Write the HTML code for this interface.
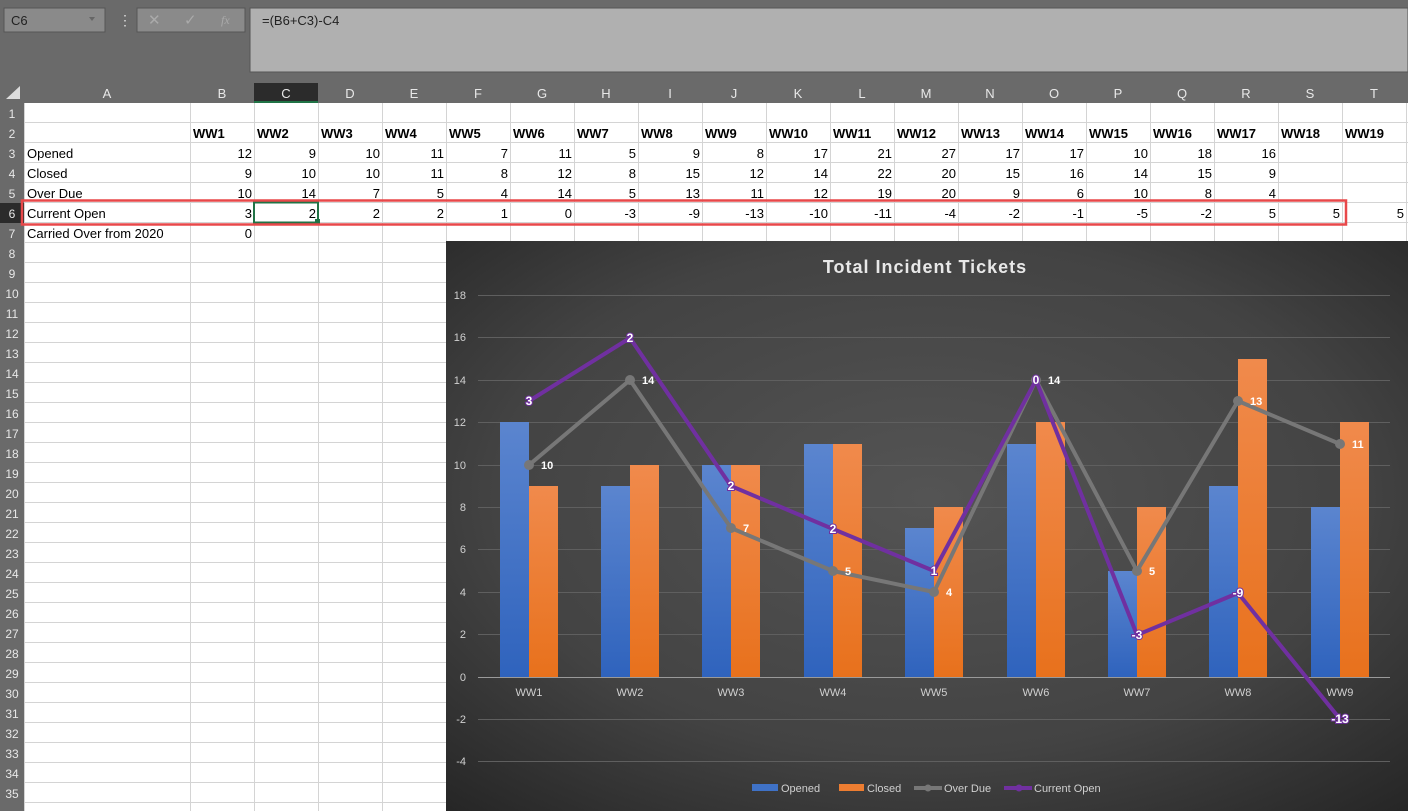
<!DOCTYPE html>
<html><head><meta charset="utf-8"><style>
html,body{margin:0;padding:0;background:#fff;}
svg{display:block;font-family:"Liberation Sans",sans-serif;}
</style></head><body>
<svg width="1408" height="811" viewBox="0 0 1408 811" xmlns="http://www.w3.org/2000/svg">
<defs>
<radialGradient id="bg" cx="0.5" cy="0.45" r="0.75">
<stop offset="0" stop-color="#545454"/><stop offset="0.6" stop-color="#434343"/><stop offset="1" stop-color="#252525"/>
</radialGradient>
<linearGradient id="bl" x1="0" y1="0" x2="0" y2="1"><stop offset="0" stop-color="#5b85cf"/><stop offset="1" stop-color="#2f63bd"/></linearGradient>
<linearGradient id="or" x1="0" y1="0" x2="0" y2="1"><stop offset="0" stop-color="#f08a4c"/><stop offset="1" stop-color="#e8711c"/></linearGradient>
</defs>
<rect x="0" y="0" width="1408" height="83" fill="#6a6a6a"/>
<rect x="4" y="8" width="101" height="24" fill="#8a8a8a" stroke="#555"/>
<text x="11" y="25" font-size="13" fill="#222">C6</text>
<path d="M89 17 l6 0 l-3 4z" fill="#666"/>
<text x="118" y="25" font-size="14" fill="#ddd">⋮</text>
<rect x="137" y="8" width="108" height="24" fill="#8a8a8a" stroke="#555"/>
<text x="148" y="25" font-size="15" fill="#aaa">✕</text>
<text x="184" y="25" font-size="15" fill="#aaa">✓</text>
<text x="221" y="24" font-size="12" font-style="italic" fill="#aaa" font-family="Liberation Serif,serif">fx</text>
<rect x="250" y="8" width="1158" height="64" fill="#b0b0b0" stroke="#555"/>
<text x="262" y="25" font-size="13" fill="#222">=(B6+C3)-C4</text>
<rect x="0" y="83" width="1408" height="20" fill="#6a6a6a"/>
<rect x="0" y="103" width="24" height="708" fill="#6a6a6a"/>
<path d="M6 99 L20 99 L20 86z" fill="#ddd"/>
<rect x="254" y="83" width="64" height="20" fill="#2b2b2b"/>
<rect x="254" y="101" width="64" height="2" fill="#217346"/>
<rect x="0" y="203" width="24" height="20" fill="#2b2b2b"/>
<g stroke="#d4d4d4" stroke-width="1">
<line x1="24.5" y1="103" x2="24.5" y2="811"/>
<line x1="190.5" y1="103" x2="190.5" y2="811"/>
<line x1="254.5" y1="103" x2="254.5" y2="811"/>
<line x1="318.5" y1="103" x2="318.5" y2="811"/>
<line x1="382.5" y1="103" x2="382.5" y2="811"/>
<line x1="446.5" y1="103" x2="446.5" y2="811"/>
<line x1="510.5" y1="103" x2="510.5" y2="241"/><line x1="574.5" y1="103" x2="574.5" y2="241"/><line x1="638.5" y1="103" x2="638.5" y2="241"/><line x1="702.5" y1="103" x2="702.5" y2="241"/><line x1="766.5" y1="103" x2="766.5" y2="241"/><line x1="830.5" y1="103" x2="830.5" y2="241"/><line x1="894.5" y1="103" x2="894.5" y2="241"/><line x1="958.5" y1="103" x2="958.5" y2="241"/><line x1="1022.5" y1="103" x2="1022.5" y2="241"/><line x1="1086.5" y1="103" x2="1086.5" y2="241"/><line x1="1150.5" y1="103" x2="1150.5" y2="241"/><line x1="1214.5" y1="103" x2="1214.5" y2="241"/><line x1="1278.5" y1="103" x2="1278.5" y2="241"/><line x1="1342.5" y1="103" x2="1342.5" y2="241"/><line x1="1406.5" y1="103" x2="1406.5" y2="241"/>
</g>
<g stroke="#d4d4d4" stroke-width="1">
<line x1="24" y1="122.5" x2="1408" y2="122.5"/><line x1="24" y1="142.5" x2="1408" y2="142.5"/><line x1="24" y1="162.5" x2="1408" y2="162.5"/><line x1="24" y1="182.5" x2="1408" y2="182.5"/><line x1="24" y1="202.5" x2="1408" y2="202.5"/><line x1="24" y1="222.5" x2="1408" y2="222.5"/><line x1="24" y1="242.5" x2="446" y2="242.5"/><line x1="24" y1="262.5" x2="446" y2="262.5"/><line x1="24" y1="282.5" x2="446" y2="282.5"/><line x1="24" y1="302.5" x2="446" y2="302.5"/><line x1="24" y1="322.5" x2="446" y2="322.5"/><line x1="24" y1="342.5" x2="446" y2="342.5"/><line x1="24" y1="362.5" x2="446" y2="362.5"/><line x1="24" y1="382.5" x2="446" y2="382.5"/><line x1="24" y1="402.5" x2="446" y2="402.5"/><line x1="24" y1="422.5" x2="446" y2="422.5"/><line x1="24" y1="442.5" x2="446" y2="442.5"/><line x1="24" y1="462.5" x2="446" y2="462.5"/><line x1="24" y1="482.5" x2="446" y2="482.5"/><line x1="24" y1="502.5" x2="446" y2="502.5"/><line x1="24" y1="522.5" x2="446" y2="522.5"/><line x1="24" y1="542.5" x2="446" y2="542.5"/><line x1="24" y1="562.5" x2="446" y2="562.5"/><line x1="24" y1="582.5" x2="446" y2="582.5"/><line x1="24" y1="602.5" x2="446" y2="602.5"/><line x1="24" y1="622.5" x2="446" y2="622.5"/><line x1="24" y1="642.5" x2="446" y2="642.5"/><line x1="24" y1="662.5" x2="446" y2="662.5"/><line x1="24" y1="682.5" x2="446" y2="682.5"/><line x1="24" y1="702.5" x2="446" y2="702.5"/><line x1="24" y1="722.5" x2="446" y2="722.5"/><line x1="24" y1="742.5" x2="446" y2="742.5"/><line x1="24" y1="762.5" x2="446" y2="762.5"/><line x1="24" y1="782.5" x2="446" y2="782.5"/><line x1="24" y1="802.5" x2="446" y2="802.5"/>
</g>
<g font-size="13" fill="#e8e8e8" text-anchor="middle">
<text x="107" y="98">A</text><text x="222" y="98">B</text><text x="286" y="98">C</text><text x="350" y="98">D</text><text x="414" y="98">E</text><text x="478" y="98">F</text><text x="542" y="98">G</text><text x="606" y="98">H</text><text x="670" y="98">I</text><text x="734" y="98">J</text><text x="798" y="98">K</text><text x="862" y="98">L</text><text x="926" y="98">M</text><text x="990" y="98">N</text><text x="1054" y="98">O</text><text x="1118" y="98">P</text><text x="1182" y="98">Q</text><text x="1246" y="98">R</text><text x="1310" y="98">S</text><text x="1374" y="98">T</text>
</g>
<g font-size="12" fill="#e8e8e8" text-anchor="middle">
<text x="12" y="118">1</text><text x="12" y="138">2</text><text x="12" y="158">3</text><text x="12" y="178">4</text><text x="12" y="198">5</text><text x="12" y="218">6</text><text x="12" y="238">7</text><text x="12" y="258">8</text><text x="12" y="278">9</text><text x="12" y="298">10</text><text x="12" y="318">11</text><text x="12" y="338">12</text><text x="12" y="358">13</text><text x="12" y="378">14</text><text x="12" y="398">15</text><text x="12" y="418">16</text><text x="12" y="438">17</text><text x="12" y="458">18</text><text x="12" y="478">19</text><text x="12" y="498">20</text><text x="12" y="518">21</text><text x="12" y="538">22</text><text x="12" y="558">23</text><text x="12" y="578">24</text><text x="12" y="598">25</text><text x="12" y="618">26</text><text x="12" y="638">27</text><text x="12" y="658">28</text><text x="12" y="678">29</text><text x="12" y="698">30</text><text x="12" y="718">31</text><text x="12" y="738">32</text><text x="12" y="758">33</text><text x="12" y="778">34</text><text x="12" y="798">35</text>
</g>
<g font-size="13" fill="#000" font-weight="bold">
<text x="193" y="138">WW1</text><text x="257" y="138">WW2</text><text x="321" y="138">WW3</text><text x="385" y="138">WW4</text><text x="449" y="138">WW5</text><text x="513" y="138">WW6</text><text x="577" y="138">WW7</text><text x="641" y="138">WW8</text><text x="705" y="138">WW9</text><text x="769" y="138">WW10</text><text x="833" y="138">WW11</text><text x="897" y="138">WW12</text><text x="961" y="138">WW13</text><text x="1025" y="138">WW14</text><text x="1089" y="138">WW15</text><text x="1153" y="138">WW16</text><text x="1217" y="138">WW17</text><text x="1281" y="138">WW18</text><text x="1345" y="138">WW19</text>
</g>
<g font-size="13" fill="#000">
<text x="27" y="158">Opened</text><text x="27" y="178">Closed</text><text x="27" y="198">Over Due</text><text x="27" y="218">Current Open</text><text x="27" y="238">Carried Over from 2020</text>
</g>
<g font-size="13" fill="#000" text-anchor="end">
<text x="252" y="158">12</text><text x="316" y="158">9</text><text x="380" y="158">10</text><text x="444" y="158">11</text><text x="508" y="158">7</text><text x="572" y="158">11</text><text x="636" y="158">5</text><text x="700" y="158">9</text><text x="764" y="158">8</text><text x="828" y="158">17</text><text x="892" y="158">21</text><text x="956" y="158">27</text><text x="1020" y="158">17</text><text x="1084" y="158">17</text><text x="1148" y="158">10</text><text x="1212" y="158">18</text><text x="1276" y="158">16</text>
<text x="252" y="178">9</text><text x="316" y="178">10</text><text x="380" y="178">10</text><text x="444" y="178">11</text><text x="508" y="178">8</text><text x="572" y="178">12</text><text x="636" y="178">8</text><text x="700" y="178">15</text><text x="764" y="178">12</text><text x="828" y="178">14</text><text x="892" y="178">22</text><text x="956" y="178">20</text><text x="1020" y="178">15</text><text x="1084" y="178">16</text><text x="1148" y="178">14</text><text x="1212" y="178">15</text><text x="1276" y="178">9</text>
<text x="252" y="198">10</text><text x="316" y="198">14</text><text x="380" y="198">7</text><text x="444" y="198">5</text><text x="508" y="198">4</text><text x="572" y="198">14</text><text x="636" y="198">5</text><text x="700" y="198">13</text><text x="764" y="198">11</text><text x="828" y="198">12</text><text x="892" y="198">19</text><text x="956" y="198">20</text><text x="1020" y="198">9</text><text x="1084" y="198">6</text><text x="1148" y="198">10</text><text x="1212" y="198">8</text><text x="1276" y="198">4</text>
<text x="252" y="218">3</text><text x="316" y="218">2</text><text x="380" y="218">2</text><text x="444" y="218">2</text><text x="508" y="218">1</text><text x="572" y="218">0</text><text x="636" y="218">-3</text><text x="700" y="218">-9</text><text x="764" y="218">-13</text><text x="828" y="218">-10</text><text x="892" y="218">-11</text><text x="956" y="218">-4</text><text x="1020" y="218">-2</text><text x="1084" y="218">-1</text><text x="1148" y="218">-5</text><text x="1212" y="218">-2</text><text x="1276" y="218">5</text><text x="1340" y="218">5</text><text x="1404" y="218">5</text>
<text x="252" y="238">0</text>
</g>
<rect x="254" y="202.5" width="64" height="20" fill="none" stroke="#217346" stroke-width="2"/>
<rect x="315" y="219" width="5" height="5" fill="#217346"/>
<rect x="22" y="200.5" width="1324" height="24" fill="none" stroke="#e8484a" stroke-width="2.5"/>
<rect x="446" y="241" width="962" height="570" fill="url(#bg)"/>
<text x="925" y="273" font-size="18" font-weight="bold" fill="#e8e8e8" text-anchor="middle" letter-spacing="1">Total Incident Tickets</text>
<g stroke="#5f5f5f" stroke-width="1">
<line x1="478" y1="295.5" x2="1390" y2="295.5"/><line x1="478" y1="337.5" x2="1390" y2="337.5"/><line x1="478" y1="380.5" x2="1390" y2="380.5"/><line x1="478" y1="422.5" x2="1390" y2="422.5"/><line x1="478" y1="465.5" x2="1390" y2="465.5"/><line x1="478" y1="507.5" x2="1390" y2="507.5"/><line x1="478" y1="549.5" x2="1390" y2="549.5"/><line x1="478" y1="592.5" x2="1390" y2="592.5"/><line x1="478" y1="634.5" x2="1390" y2="634.5"/><line x1="478" y1="719.5" x2="1390" y2="719.5"/><line x1="478" y1="761.5" x2="1390" y2="761.5"/>
</g>
<g font-size="11" fill="#d0d0d0" text-anchor="end">
<text x="466" y="299">18</text><text x="466" y="341">16</text><text x="466" y="384">14</text><text x="466" y="426">12</text><text x="466" y="469">10</text><text x="466" y="511">8</text><text x="466" y="553">6</text><text x="466" y="596">4</text><text x="466" y="638">2</text><text x="466" y="681">0</text><text x="466" y="723">-2</text><text x="466" y="765">-4</text>
</g>
<g fill="url(#bl)">
<rect x="500" y="422" width="29" height="255"/><rect x="601" y="486" width="29" height="191"/><rect x="702" y="465" width="29" height="212"/><rect x="804" y="444" width="29" height="233"/><rect x="905" y="528" width="29" height="149"/><rect x="1007" y="444" width="29" height="233"/><rect x="1108" y="571" width="29" height="106"/><rect x="1209" y="486" width="29" height="191"/><rect x="1311" y="507" width="29" height="170"/>
</g>
<g fill="url(#or)">
<rect x="529" y="486" width="29" height="191"/><rect x="630" y="465" width="29" height="212"/><rect x="731" y="465" width="29" height="212"/><rect x="833" y="444" width="29" height="233"/><rect x="934" y="507" width="29" height="170"/><rect x="1036" y="422" width="29" height="255"/><rect x="1137" y="507" width="29" height="170"/><rect x="1238" y="359" width="29" height="318"/><rect x="1340" y="422" width="29" height="255"/>
</g>
<line x1="478" y1="677.5" x2="1390" y2="677.5" stroke="#9a9a9a"/>
<g font-size="11" fill="#d0d0d0" text-anchor="middle">
<text x="529" y="696">WW1</text><text x="630" y="696">WW2</text><text x="731" y="696">WW3</text><text x="833" y="696">WW4</text><text x="934" y="696">WW5</text><text x="1036" y="696">WW6</text><text x="1137" y="696">WW7</text><text x="1238" y="696">WW8</text><text x="1340" y="696">WW9</text>
</g>
<polyline points="529,465 630,380 731,528 833,571 934,592 1036,380 1137,571 1238,401 1340,444" fill="none" stroke="#777" stroke-width="4" stroke-linejoin="round"/>
<g fill="#777">
<circle cx="529" cy="465" r="5"/><circle cx="630" cy="380" r="5"/><circle cx="731" cy="528" r="5"/><circle cx="833" cy="571" r="5"/><circle cx="934" cy="592" r="5"/><circle cx="1036" cy="380" r="5"/><circle cx="1137" cy="571" r="5"/><circle cx="1238" cy="401" r="5"/><circle cx="1340" cy="444" r="5"/>
</g>
<polyline points="529,401 630,338 731,486 833,529 934,571 1036,380 1137,635 1238,593 1340,719" fill="none" stroke="#7030a0" stroke-width="4" stroke-linejoin="round"/>
<g font-size="11" font-weight="bold" fill="#fff">
<text x="541" y="469">10</text><text x="642" y="384">14</text><text x="743" y="532">7</text><text x="845" y="575">5</text><text x="946" y="596">4</text><text x="1048" y="384">14</text><text x="1149" y="575">5</text><text x="1250" y="405">13</text><text x="1352" y="448">11</text>
</g>
<g font-size="12" font-weight="bold" fill="#fff" text-anchor="middle" stroke="#7030a0" stroke-width="2" paint-order="stroke">
<text x="529" y="405">3</text><text x="630" y="342">2</text><text x="731" y="490">2</text><text x="833" y="533">2</text><text x="934" y="575">1</text><text x="1036" y="384">0</text><text x="1137" y="639">-3</text><text x="1238" y="597">-9</text><text x="1340" y="723">-13</text>
</g>
<rect x="752" y="784" width="26" height="7" fill="#3f72c7"/>
<text x="781" y="792" font-size="11" fill="#d0d0d0">Opened</text>
<rect x="839" y="784" width="25" height="7" fill="#ed7d31"/>
<text x="867" y="792" font-size="11" fill="#d0d0d0">Closed</text>
<line x1="914" y1="788" x2="942" y2="788" stroke="#777" stroke-width="4"/><circle cx="928" cy="788" r="3.5" fill="#777"/>
<text x="944" y="792" font-size="11" fill="#d0d0d0">Over Due</text>
<line x1="1004" y1="788" x2="1032" y2="788" stroke="#7030a0" stroke-width="4"/><circle cx="1019" cy="788" r="3.5" fill="#7030a0"/>
<text x="1034" y="792" font-size="11" fill="#d0d0d0">Current Open</text>
</svg>
</body></html>
